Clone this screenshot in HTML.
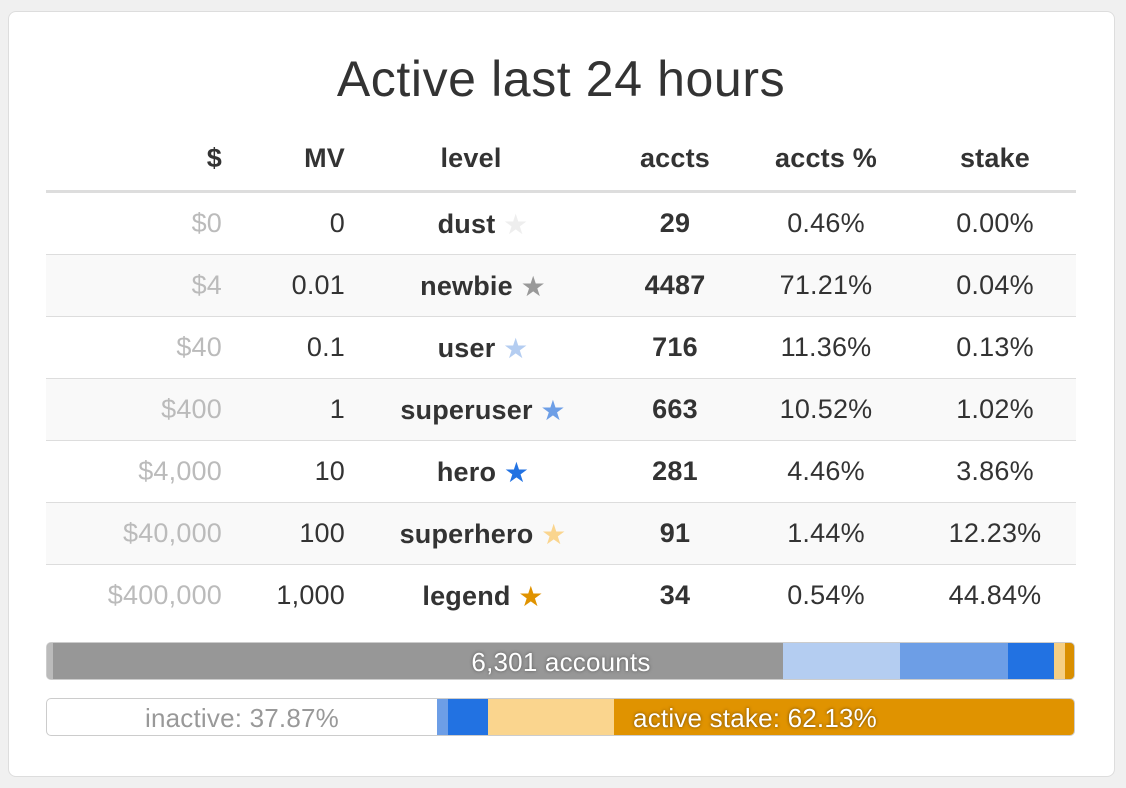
<!DOCTYPE html>
<html><head><style>
body{margin:0;width:1126px;height:788px;background:#f0f0f0;font-family:"Liberation Sans",sans-serif;position:relative;overflow:hidden}
.card{position:absolute;left:8px;top:11px;width:1105px;height:764px;background:#fff;border:1px solid #ddd;border-radius:8px}
.t{position:absolute;white-space:nowrap;font-size:27px;color:#333;letter-spacing:0.2px}
.r{text-align:right}.c{transform:translateX(-50%)}
.row{position:absolute;left:46px;width:1030px;height:62px;border-top:1px solid #ddd}
.seg{position:absolute;top:0;height:100%}
.st{font-size:28px;vertical-align:-1px}
</style></head><body>
<div class="card"></div>
<div class="t" style="left:561px;top:50px;font-size:50px;letter-spacing:0.6px;transform:translateX(-50%)">Active last 24 hours</div>
<div class="row" style="top:190px;border-top:3px solid #ddd"></div>
<div class="row" style="top:254px;background:#f9f9f9"></div>
<div class="row" style="top:316px"></div>
<div class="row" style="top:378px;background:#f9f9f9"></div>
<div class="row" style="top:440px"></div>
<div class="row" style="top:502px;background:#f9f9f9"></div>
<div class="row" style="top:564px"></div>
<div id="tx"></div>
<div style="position:absolute;left:46px;top:642px;width:1027px;height:36px;border:1px solid #ccc;border-radius:5px;overflow:hidden;background:#979797">
<div class="seg" style="left:0;width:6px;background:#bbb"></div>
<div class="seg" style="left:736px;width:117px;background:#b4cdf1"></div>
<div class="seg" style="left:853px;width:108px;background:#6d9ee6"></div>
<div class="seg" style="left:961px;width:46px;background:#2272e2"></div>
<div class="seg" style="left:1007px;width:11px;background:#f5cf84"></div>
<div class="seg" style="left:1018px;width:9px;background:#d98f00"></div>
<div class="t" style="left:514px;top:4px;color:#fff;transform:translateX(-50%);text-shadow:0 0 3px #555;font-size:26px">6,301 accounts</div>
</div>
<div style="position:absolute;left:46px;top:698px;width:1027px;height:36px;border:1px solid #ccc;border-radius:5px;overflow:hidden;background:#fff">
<div class="seg" style="left:390px;width:11px;background:#6d9ee6"></div>
<div class="seg" style="left:401px;width:40px;background:#2272e2"></div>
<div class="seg" style="left:441px;width:126px;background:#fad58e"></div>
<div class="seg" style="left:567px;width:460px;background:#e09300"></div>
<div class="t" style="left:195px;top:4px;color:#999;transform:translateX(-50%);font-size:26px">inactive: 37.87%</div>
<div class="t" style="left:708px;top:4px;color:#fff;transform:translateX(-50%);text-shadow:0 0 3px #6a4500;font-size:26px">active stake: 62.13%</div>
</div>
<script>
var D=[["$0","0","dust","#eee","29","0.46%","0.00%"],["$4","0.01","newbie","#999","4487","71.21%","0.04%"],["$40","0.1","user","#b4cdf1","716","11.36%","0.13%"],["$400","1","superuser","#6d9ee6","663","10.52%","1.02%"],["$4,000","10","hero","#2272e2","281","4.46%","3.86%"],["$40,000","100","superhero","#fad58e","91","1.44%","12.23%"],["$400,000","1,000","legend","#e09300","34","0.54%","44.84%"]];
var s="";
function a(x,y,t,st,cl){s+='<div class="t '+(cl||'')+'" style="left:'+x+'px;top:'+y+'px;'+(st||'')+'">'+t+'</div>';}
var hy=143,b="font-weight:bold;";
a(0,hy,"$",b+"width:222px;text-align:right");a(0,hy,"MV",b+"width:345px;text-align:right");
a(471,hy,"level",b,"c");a(675,hy,"accts",b,"c");a(826,hy,"accts %",b,"c");a(995,hy,"stake",b,"c");
D.forEach(function(d,i){var y=208+i*62;
a(0,y,d[0],"width:222px;text-align:right;color:#bbb");a(0,y,d[1],"width:345px;text-align:right");
a(483,y,'<b>'+d[2]+'</b> <span class="st" style="color:'+d[3]+'">★</span>',"","c");
a(675,y,d[4],b,"c");a(826,y,d[5],"","c");a(995,y,d[6],"","c");});
document.getElementById("tx").innerHTML=s;
</script>
</body></html>
